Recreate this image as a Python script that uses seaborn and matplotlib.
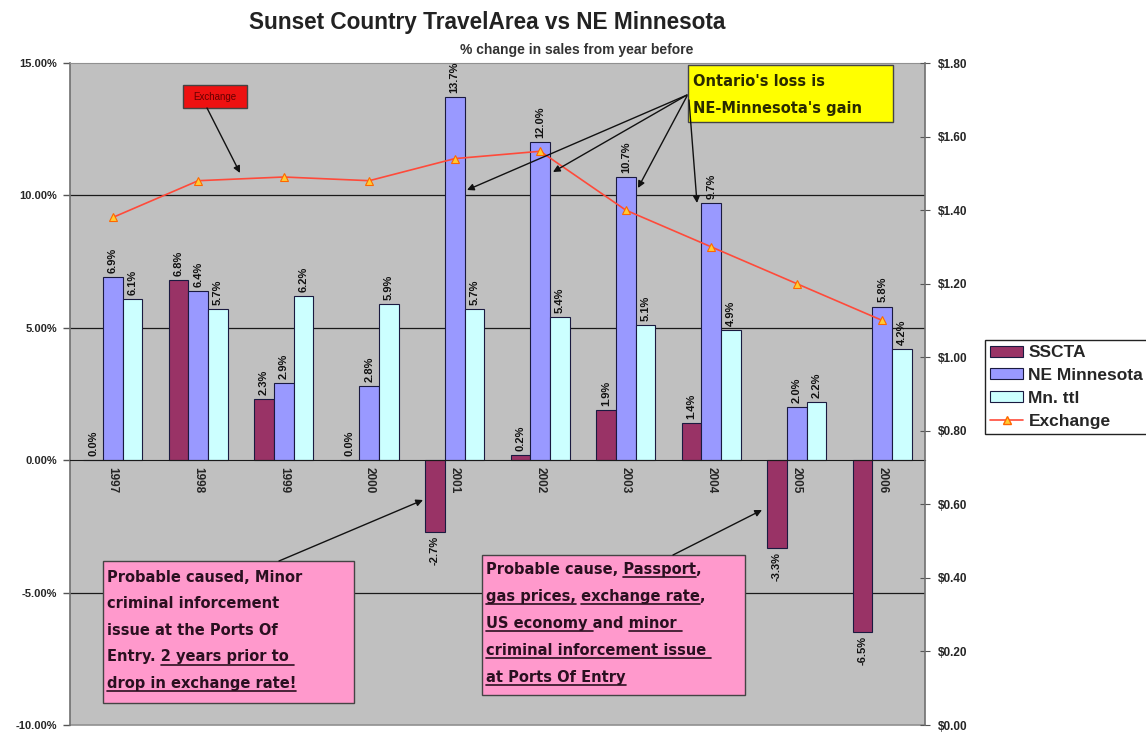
import numpy as np
import pandas as pd
import matplotlib
matplotlib.use('Agg')
import matplotlib.pyplot as plt
import seaborn as sns
from matplotlib.ticker import FuncFormatter
from matplotlib.patches import Rectangle, Patch, FancyArrowPatch
from matplotlib.lines import Line2D
from matplotlib.font_manager import FontProperties

# data
years = ['1997', '1998', '1999', '2000', '2001', '2002', '2003', '2004', '2005', '2006']
sscta = [0.0, 6.8, 2.3, 0.0, -2.7, 0.2, 1.9, 1.4, -3.3, -6.5]
ne_minnesota = [6.9, 6.4, 2.9, 2.8, 13.7, 12.0, 10.7, 9.7, 2.0, 5.8]
mn_ttl = [6.1, 5.7, 6.2, 5.9, 5.7, 5.4, 5.1, 4.9, 2.2, 4.2]
exchange = [1.38, 1.48, 1.49, 1.48, 1.54, 1.56, 1.40, 1.30, 1.20, 1.10]
series_names = ['SSCTA', 'NE Minnesota', 'Mn. ttl']
series_colors = ['#993366', '#9999FF', '#CCFFFF']

df = pd.DataFrame({
    'Year': years * 3,
    'Series': [series_names[0]] * len(years) + [series_names[1]] * len(years) + [series_names[2]] * len(years),
    'Change': sscta + ne_minnesota + mn_ttl,
})

sns.set_style('white')
plt.rcParams['font.family'] = ['Liberation Sans', 'DejaVu Sans']

W, H = 1146, 733
fig = plt.figure(figsize=(W / 100, H / 100), dpi=100)
ax = fig.add_axes([70 / W, 8 / H, 855 / W, 662 / H])
ax.set_facecolor('#C0C0C0')

sns.barplot(data=df, x='Year', y='Change', hue='Series', palette=series_colors,
            width=0.69, saturation=1, edgecolor='#1a1a40', linewidth=0.8,
            legend=False, ax=ax, zorder=2)
for c in ax.containers:
    ax.bar_label(c, fmt='%.1f%%', rotation=90, padding=3, fontsize=8, fontweight='bold', color='#111111')

for y in [10, 5, -5]:
    ax.axhline(y, color='#1a1a1a', lw=0.9, zorder=0.5)
ax.axhline(-10, color='#909090', lw=1.2, clip_on=False, zorder=0.5)

ax.set_ylim(-10, 15)
ax.set_yticks(np.arange(-10, 15.1, 5))
ax.yaxis.set_major_formatter(FuncFormatter(lambda v, p: f'{v:.2f}%'))
ax.tick_params(axis='y', direction='out', length=5, width=1, color='#555555', pad=4,
               labelsize=8)
for lab in ax.get_yticklabels():
    lab.set_fontweight('bold')

ax.spines['bottom'].set_position(('data', 0))
ax.spines['bottom'].set_color('#1a1a1a')
ax.spines['left'].set_color('#707070')
ax.spines['left'].set_linewidth(1.2)
ax.spines['top'].set_color('#909090')
ax.spines['right'].set_visible(False)
ax.set_xticks(np.arange(len(years)) + 0.5, minor=True)
ax.tick_params(axis='x', which='major', length=0, pad=5, labelsize=8.5)
ax.tick_params(axis='x', which='minor', length=4, direction='out', color='#333333')
for lab in ax.get_xticklabels():
    lab.set_rotation(-90)
    lab.set_fontweight('bold')
    lab.set_va('top')
ax.set_xlabel('')
ax.set_ylabel('')

ax2 = ax.twinx()
sns.lineplot(x=np.arange(len(years)), y=exchange, ax=ax2, color='#FF4A3A', lw=1.2,
             marker='^', markersize=6, markerfacecolor='#FFCC33', markeredgecolor='#FF6600',
             markeredgewidth=0.8)
ax2.set_ylim(0, 1.8)
ax2.set_yticks(np.arange(0, 1.81, 0.2))
ax2.yaxis.set_major_formatter(FuncFormatter(lambda v, p: f'${v:.2f}'))
ax2.tick_params(axis='y', direction='inout', length=7, color='#555555', pad=6, labelsize=8.5)
for lab in ax2.get_yticklabels():
    lab.set_fontweight('bold')
for s in ['top', 'left', 'bottom']:
    ax2.spines[s].set_visible(False)
ax2.spines['right'].set_color('#707070')
ax2.spines['right'].set_linewidth(1.2)
ax2.set_ylabel('')
ax.set_xlim(-0.5, len(years) - 0.5)

# titles
fig.text(487 / W, 1 - 23 / H, 'Sunset Country TravelArea vs NE Minnesota', ha='center', va='center',
         fontsize=16.3, fontweight='bold', color='#222222')
fig.text(577 / W, 1 - 50 / H, '% change in sales from year before', ha='center', va='center',
         fontsize=10, fontweight='bold', color='#333333')

# legend
handles = [Patch(facecolor=col, edgecolor='#1a1a40', lw=0.8) for col in series_colors]
handles.append(Line2D([], [], color='#FF4A3A', lw=1.2, marker='^', markersize=6,
                      markerfacecolor='#FFCC33', markeredgecolor='#FF6600'))
fig.legend(handles, series_names + ['Exchange'], loc='upper left',
           bbox_to_anchor=(985 / W, 1 - 340 / H), frameon=True, fancybox=False,
           edgecolor='#222222', framealpha=1, borderaxespad=0, borderpad=0.3,
           handlelength=1.9, handleheight=0.6, handletextpad=0.3, labelspacing=0.45,
           prop={'family': 'Liberation Sans', 'weight': 'bold', 'size': 12.5})


# annotation helpers, positions in pixels from the top-left corner
def fp(x, y):
    return (x / W, 1 - y / H)


def box(x0, y0, x1, y1, face):
    fig.patches.append(Rectangle(fp(x0, y1), (x1 - x0) / W, (y1 - y0) / H,
                                 transform=fig.transFigure, facecolor=face,
                                 edgecolor='#444444', lw=1, zorder=5))


def arrow(a, b):
    fig.add_artist(FancyArrowPatch(fp(*a), fp(*b), transform=fig.transFigure,
                                   arrowstyle='-|>', mutation_scale=10, lw=1,
                                   color='#111111', shrinkA=0, shrinkB=0, zorder=6))


renderer = fig.canvas.get_renderer()
box_font = FontProperties(family='DejaVu Sans', weight='bold', size=10.5)


def text_width(s):
    w, h, d = renderer.get_text_width_height_descent(s, box_font, ismath=False)
    return w


def rich_lines(x0, base0, step, lines, color):
    for i, segs in enumerate(lines):
        yb = base0 + i * step
        full = ''.join(s for s, u in segs)
        fig.text(*fp(x0, yb), full, fontproperties=box_font, color=color, va='baseline',
                 ha='left', zorder=7)
        prefix = ''
        for s, u in segs:
            if u:
                st = x0 + (text_width(prefix + '.') - text_width('.') if prefix else 0)
                en = st + text_width(s)
                fig.add_artist(Line2D([st / W, en / W], [1 - (yb + 3) / H] * 2,
                                      transform=fig.transFigure, color=color, lw=1.2, zorder=7))
            prefix += s


# Exchange label
box(183, 85, 247, 108, '#EE1111')
fig.text(*fp(215, 97), 'Exchange', ha='center', va='center', fontsize=7, color='#660000', zorder=7)
arrow((207, 108), (240, 173))

# Ontario box
box(688, 65, 893, 122, '#FFFF00')
rich_lines(693, 86, 27, [[("Ontario's loss is", False)], [("NE-Minnesota's gain", False)]], '#2a2a00')
arrow((687, 95), (467, 190))
arrow((687, 95), (553, 172))
arrow((687, 96), (638, 188))
arrow((689, 100), (697, 203))

# left pink box
box(103, 561, 354, 703, '#FF99CC')
rich_lines(107, 582, 26.5, [
    [('Probable caused, Minor', False)],
    [('criminal inforcement', False)],
    [('issue at the Ports Of', False)],
    [('Entry. ', False), ('2 years prior to ', True)],
    [('drop in exchange rate!', True)],
], '#2a1020')
arrow((279, 561), (423, 500))

# right pink box
box(482, 555, 745, 695, '#FF99CC')
rich_lines(486, 574, 27, [
    [('Probable cause, ', False), ('Passport', True), (',', False)],
    [('gas prices,', True), (' ', False), ('exchange rate', True), (',', False)],
    [('US economy ', True), ('and ', False), ('minor ', True)],
    [('criminal inforcement issue ', True)],
    [('at Ports Of Entry', True)],
], '#2a1020')
arrow((673, 555), (762, 510))

fig.savefig('out.png', dpi=100)
